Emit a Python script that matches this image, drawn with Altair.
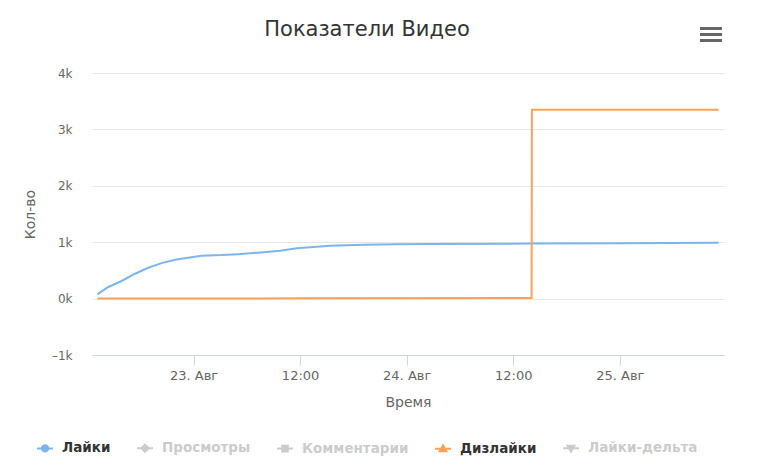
import altair as alt
import pandas as pd

# ---- data ----
SERIES = ["Лайки", "Просмотры", "Комментарии", "Дизлайки", "Лайки-дельта"]
SERIES_COLORS = ["#7cb5ec", "#333333", "#333333", "#f7a35c", "#333333"]
SERIES_SHAPES = [
    "M-1,0L1,0M0.4,0A0.4,0.4,0,1,1,-0.4,0A0.4,0.4,0,1,1,0.4,0Z",
    "M-1,0L1,0M0,-0.45L0.45,0L0,0.45L-0.45,0Z",
    "M-1,0L1,0M-0.35,-0.35L0.35,-0.35L0.35,0.35L-0.35,0.35Z",
    "M-1,0L1,0M0,-0.42L0.42,0.32L-0.42,0.32Z",
    "M-1,0L1,0M0,0.42L0.42,-0.32L-0.42,-0.32Z",
]

likes_time = [
    "2019-08-22T13:10:00Z", "2019-08-22T14:24:00Z", "2019-08-22T15:54:00Z",
    "2019-08-22T17:25:00Z", "2019-08-22T18:54:00Z", "2019-08-22T20:24:00Z",
    "2019-08-22T21:55:00Z", "2019-08-22T23:24:00Z", "2019-08-23T00:54:00Z",
    "2019-08-23T03:09:00Z", "2019-08-23T05:02:00Z", "2019-08-23T07:52:00Z",
    "2019-08-23T09:45:00Z", "2019-08-23T11:38:00Z", "2019-08-23T15:23:00Z",
    "2019-08-23T19:07:00Z", "2019-08-23T22:53:00Z", "2019-08-24T02:38:00Z",
    "2019-08-24T14:04:00Z", "2019-08-25T00:00:00Z", "2019-08-25T11:08:00Z",
]
likes_value = [
    76, 206, 312, 441, 547, 629, 688, 724, 759, 771, 788, 822,
    850, 893, 935, 953, 964, 970, 975, 983, 990,
]

dislikes_time = [
    "2019-08-22T13:10:00Z", "2019-08-23T12:00:00Z", "2019-08-24T14:04:00Z",
    "2019-08-24T14:06:00Z", "2019-08-25T11:08:00Z",
]
dislikes_value = [0, 5, 12, 3350, 3350]

x_ticks = [(23, 0), (23, 12), (24, 0), (24, 12), (25, 0)]
y_ticks = [-1000, 0, 1000, 2000, 3000, 4000]

rows = [{"t": t, "v": v, "series": "Лайки"} for t, v in zip(likes_time, likes_value)]
rows += [{"t": t, "v": v, "series": "Дизлайки"} for t, v in zip(dislikes_time, dislikes_value)]
df = pd.DataFrame(rows)

FONT = "DejaVu Sans"

x_enc = alt.X(
    "t:T",
    scale=alt.Scale(
        type="utc",
        domain=[
            alt.DateTime(year=2019, month=8, date=22, hours=12, minutes=34, utc=True),
            alt.DateTime(year=2019, month=8, date=25, hours=11, minutes=44, utc=True),
        ],
        nice=False,
    ),
    axis=alt.Axis(
        values=[alt.DateTime(year=2019, month=8, date=d, hours=h, utc=True) for d, h in x_ticks],
        labelExpr="utcFormat(datum.value, '%H') == '00' ? utcFormat(datum.value, '%d') + '. Авг' : utcFormat(datum.value, '%H:%M')",
        grid=False,
        domainColor="#ccd6eb",
        tickColor="#ccd6eb",
        tickSize=10,
        labelPadding=14,
        labelBaseline="alphabetic",
        labelColor="#666666",
        labelFont=FONT,
        labelFontSize=13,
        labelOverlap=False,
        labelFlush=False,
        title="Время",
        titleFont=FONT,
        titleFontSize=14,
        titleFontWeight="normal",
        titleColor="#666666",
        titleBaseline="alphabetic",
        titleY=51,
    ),
)

y_enc = alt.Y(
    "v:Q",
    scale=alt.Scale(domain=[-1000, 4000], nice=False),
    axis=alt.Axis(
        values=y_ticks,
        labelExpr="(datum.value < 0 ? '–' : '') + abs(datum.value) / 1000 + 'k'",
        grid=True,
        gridColor="#e6e6e6",
        domain=False,
        ticks=False,
        tickSize=0,
        labelPadding=20,
        labelColor="#666666",
        labelFont=FONT,
        labelFontSize=12,
        title="Кол-во",
        titleFont=FONT,
        titleFontSize=14,
        titleFontWeight="normal",
        titleColor="#666666",
        titleAngle=270,
        titleAlign="center",
        titleBaseline="alphabetic",
        titleX=-58,
        titleY=141,
    ),
)

color_scale = alt.Scale(domain=SERIES, range=SERIES_COLORS)
shape_scale = alt.Scale(domain=SERIES, range=SERIES_SHAPES)

lines = alt.Chart(df).mark_line(strokeWidth=2).encode(
    x=x_enc,
    y=y_enc,
    color=alt.Color("series:N", scale=color_scale, legend=None),
    detail="series:N",
)

legend = alt.Legend(
    orient="none",
    legendX=-56,
    legendY=366,
    direction="horizontal",
    title=None,
    symbolSize=256,
    symbolStrokeWidth=2,
    symbolOpacity=1,
    labelFont=FONT,
    labelFontSize=13.5,
    labelFontWeight="bold",
    labelColor="#333333",
    labelOffset=8,
    columnPadding=22,
)

sel = alt.selection_point(
    fields=["series"], bind="legend",
    value=[{"series": "Лайки"}, {"series": "Дизлайки"}],
)

legend_layer = (
    alt.Chart(df)
    .transform_filter("false")
    .mark_point(filled=True, strokeWidth=2)
    .encode(
        x="t:T",
        y="v:Q",
        color=alt.Color("series:N", scale=color_scale, legend=legend),
        stroke=alt.Stroke("series:N", scale=color_scale, legend=legend),
        shape=alt.Shape("series:N", scale=shape_scale, legend=legend),
    )
    .add_params(sel)
)

menu_bars = [
    alt.Chart(df).mark_rule(color="#666666", strokeWidth=3, strokeCap="round").encode(
        x=alt.value(610), x2=alt.value(628), y=alt.value(yy)
    )
    for yy in (-44.5, -38.5, -32.5)
]

chart = (
    alt.layer(lines, legend_layer, *menu_bars)
    .resolve_legend(color="independent", stroke="independent", shape="independent")
    .properties(
        width=632,
        height=282,
        padding={"left": 84, "top": 65, "right": 25, "bottom": 101},
        autosize=alt.AutoSizeParams(type="none"),
        title=alt.TitleParams(
            "Показатели Видео",
            font=FONT,
            fontSize=21,
            fontWeight="normal",
            color="#333333",
            anchor="middle",
            frame="group",
            dx=-41,
            offset=0,
            dy=30,
            baseline="alphabetic",
        ),
    )
    .configure_view(strokeWidth=0)
    .configure_legend(unselectedOpacity=0.25)
)

chart.save("out.html", embed_options={"renderer": "svg", "actions": False})
